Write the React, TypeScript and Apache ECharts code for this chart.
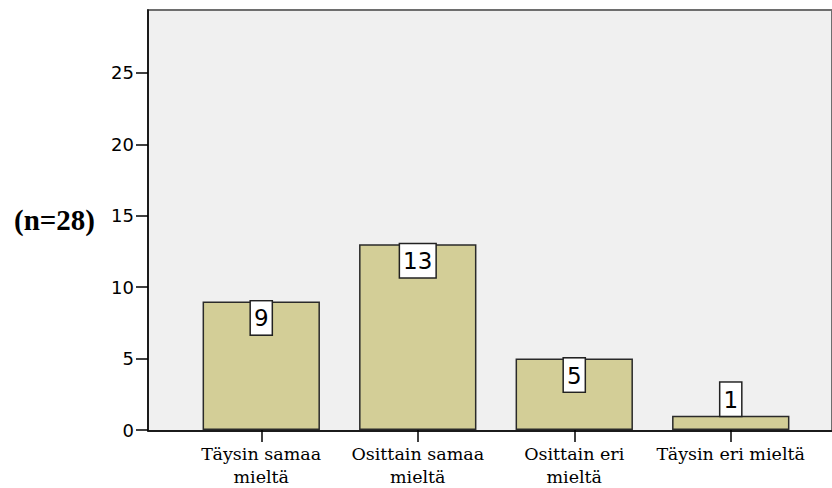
import React, { useEffect, useRef } from "react";
import * as echarts from "echarts";

const categories = [
  "Täysin samaa\nmieltä",
  "Osittain samaa\nmieltä",
  "Osittain eri\nmieltä",
  "Täysin eri mieltä",
];
const counts = [9, 13, 5, 1];
const yAxisTitle = "(n=28)";
const yMax = 29.4;
const yInterval = 5;

export default function App() {
  const ref = useRef<HTMLDivElement>(null);
  useEffect(() => {
    if (!ref.current) return;
    const chart = echarts.init(ref.current, null, { renderer: "svg" });
    chart.setOption({
      animation: false,
      backgroundColor: "#ffffff",
      grid: [
        { left: 183, right: 23, top: 10, bottom: 57, containLabel: false },
        {
          left: 148,
          right: -30,
          top: 10,
          bottom: 57,
          show: true,
          backgroundColor: "#f0f0f0",
          borderColor: "#6e6e6e",
          borderWidth: 2,
          z: 0,
        },
      ],
      xAxis: [
        {
          type: "category",
          gridIndex: 0,
          data: categories,
          axisLine: { show: false },
          axisTick: {
            show: true,
            alignWithLabel: true,
            length: 12,
            lineStyle: { color: "#000", width: 1.5 },
          },
          axisLabel: {
            interval: 0,
            margin: 12,
            color: "#000",
            fontFamily: "DejaVu Serif",
            fontSize: 17.5,
            lineHeight: 23,
          },
          splitLine: { show: false },
        },
        {
          type: "value",
          gridIndex: 1,
          min: 0,
          max: 1,
          axisLine: { show: true, lineStyle: { color: "#000", width: 1.5 } },
          axisTick: { show: false },
          axisLabel: { show: false },
          splitLine: { show: false },
        },
      ],
      yAxis: [
        {
          type: "value",
          gridIndex: 0,
          min: 0,
          max: yMax,
          interval: yInterval,
          offset: 35,
          name: yAxisTitle,
          nameLocation: "middle",
          nameRotate: 0,
          nameGap: 53,
          nameTextStyle: {
            fontFamily: "Liberation Serif",
            fontWeight: "bold",
            fontSize: 29,
            color: "#000",
            padding: [8, 0, 0, 0],
          },
          axisLine: { show: true, lineStyle: { color: "#000", width: 1.5 } },
          axisTick: {
            show: true,
            inside: false,
            length: 12,
            lineStyle: { color: "#000", width: 1.5 },
          },
          axisLabel: {
            margin: 14,
            color: "#000",
            fontFamily: "DejaVu Sans",
            fontSize: 18,
            showMaxLabel: false,
          },
          splitLine: { show: false },
        },
        {
          type: "value",
          gridIndex: 1,
          show: false,
          splitLine: { show: false },
        },
      ],
      series: [
        {
          type: "bar",
          xAxisIndex: 0,
          yAxisIndex: 0,
          barWidth: "75%",
          z: 3,
          itemStyle: {
            color: "#d3ce97",
            borderColor: "#2a2a2a",
            borderWidth: 1.5,
          },
          label: {
            show: true,
            distance: 0,
            color: "#000",
            fontFamily: "DejaVu Sans",
            fontSize: 23,
            lineHeight: 28,
            backgroundColor: "#ffffff",
            borderColor: "#222",
            borderWidth: 1.5,
            padding: [3, 3, 2, 3],
          },
          data: counts.map((v) => ({
            value: v,
            label: { position: v < 3 ? "top" : "insideTop" },
          })),
        },
      ],
    });
    return () => chart.dispose();
  }, []);
  return (
    <div
      ref={ref}
      style={{ position: "absolute", left: 0, top: 0, width: 832, height: 488 }}
    />
  );
}
